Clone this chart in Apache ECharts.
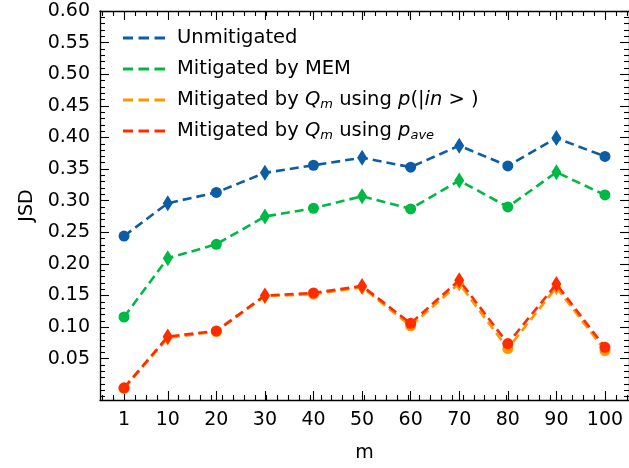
<!DOCTYPE html>
<html><head><meta charset="utf-8">
<script src="https://cdn.jsdelivr.net/npm/echarts@6/dist/echarts.min.js"></script>
<style>html,body{margin:0;padding:0;background:#fff}#c{width:629px;height:468px}</style>
</head><body><div id="c"></div>
<script>
// ---- data ----
const mValues = [1, 10, 20, 30, 40, 50, 60, 70, 80, 90, 100];
const unmitigated    = [0.244, 0.296, 0.313, 0.344, 0.356, 0.368, 0.353, 0.387, 0.355, 0.399, 0.370];
const mitigatedMEM   = [0.116, 0.209, 0.231, 0.275, 0.288, 0.307, 0.287, 0.332, 0.290, 0.345, 0.309];
const mitigatedQmIn  = [0.003, 0.083, 0.093, 0.149, 0.152, 0.163, 0.102, 0.169, 0.066, 0.163, 0.063];
const mitigatedQmAve = [0.004, 0.085, 0.094, 0.150, 0.154, 0.165, 0.106, 0.174, 0.074, 0.168, 0.068];
const seriesNames = ['Unmitigated', 'Mitigated by MEM', 'Mitigated by Q_m using p(|in>)', 'Mitigated by Q_m using p_ave'];
const yTickLabels = [0.05, 0.10, 0.15, 0.20, 0.25, 0.30, 0.35, 0.40, 0.45, 0.50, 0.55, 0.60];
const colors = ['#0C5DA5', '#00B945', '#FF9500', '#FF2C00'];

// ---- tick helpers ----
const xMinor = [];
for (let k = -2; k <= 46; k++) {
  const v = Math.round((1 + 2.25 * k) * 100) / 100;
  if (mValues.indexOf(v) < 0) xMinor.push(v);
}
const yMinor = [];
for (let k = -1; k <= 59; k++) {
  if (k % 5 === 0 && k >= 5) continue;
  yMinor.push(Math.round(k) / 100);
}

const FONT = 'DejaVu Sans';
const XMIN = -3.95, XMAX = 104.95, YMIN = -0.0153, YMAX = 0.60;
const lineBlack = {color: '#000', width: 1.3};

function xAxis(pos, ticks, len, showLine, labels) {
  const a = {
    type: 'value', min: XMIN, max: XMAX, position: pos,
    axisLine: {show: showLine, onZero: false, lineStyle: lineBlack},
    axisTick: {show: true, inside: true, length: len, customValues: ticks, lineStyle: {color: '#000', width: 1.1}},
    axisLabel: {show: !!labels},
    splitLine: {show: false}
  };
  if (labels) {
    a.axisLabel = {show: true, customValues: ticks, margin: 11, fontSize: 19, fontFamily: FONT, color: '#000',
      formatter: v => String(Math.round(v))};
    a.name = 'm'; a.nameLocation = 'middle'; a.nameGap = 44;
    a.nameTextStyle = {fontSize: 19, fontFamily: FONT, color: '#000'};
  }
  return a;
}
function yAxis(pos, ticks, len, showLine, labels) {
  const a = {
    type: 'value', min: YMIN, max: YMAX, position: pos,
    axisLine: {show: showLine, onZero: false, lineStyle: lineBlack},
    axisTick: {show: true, inside: true, length: len, customValues: ticks, lineStyle: {color: '#000', width: 1.1}},
    axisLabel: {show: !!labels},
    splitLine: {show: false}
  };
  if (labels) {
    a.axisLabel = {show: true, customValues: ticks, margin: 10, fontSize: 19, fontFamily: FONT, color: '#000',
      formatter: v => v.toFixed(2)};
    a.name = 'JSD'; a.nameLocation = 'middle'; a.nameGap = 62;
    a.nameTextStyle = {fontSize: 19, fontFamily: FONT, color: '#000'};
  }
  return a;
}

const seriesValues = [unmitigated, mitigatedMEM, mitigatedQmIn, mitigatedQmAve];
const series = seriesValues.map((vals, s) => ({
  name: seriesNames[s],
  type: 'line',
  z: 2 + s,
  xAxisIndex: 0, yAxisIndex: 0,
  data: vals.map((v, i) => ({
    value: [mValues[i], v],
    symbol: i % 2 === 0 ? 'circle' : 'diamond',
    symbolSize: i % 2 === 0 ? 11 : [10, 16]
  })),
  showAllSymbol: true,
  lineStyle: {color: colors[s], width: 2.6, type: [9, 5]},
  itemStyle: {color: colors[s]},
  emphasis: {disabled: true},
  animation: false
}));

const LFS = 19.5;
const legendRich = {
  it: {fontStyle: 'italic', fontSize: LFS, fontFamily: FONT, color: '#000', lineHeight: 22},
  sub: {fontStyle: 'italic', fontSize: 13, fontFamily: FONT, color: '#000', lineHeight: 14, verticalAlign: 'bottom'}
};
function legendFormatter(name) {
  if (name === seriesNames[2]) return 'Mitigated by {it|Q}{sub|m} using {it|p}(|{it|in} > )';
  if (name === seriesNames[3]) return 'Mitigated by {it|Q}{sub|m} using {it|p}{sub|ave}';
  return name;
}

const chart = echarts.init(document.getElementById('c'), null, {renderer: 'canvas'});
chart.setOption({
  animation: false,
  backgroundColor: '#fff',
  grid: {left: 100, top: 11, width: 533, height: 393, containLabel: false},
  xAxis: [
    xAxis('bottom', mValues, 9, true, true),
    xAxis('bottom', xMinor, 5, false, false),
    xAxis('top', mValues, 9, true, false),
    xAxis('top', xMinor, 5, false, false)
  ],
  yAxis: [
    yAxis('left', yTickLabels, 9, true, true),
    yAxis('left', yMinor, 5, false, false),
    yAxis('right', yTickLabels, 9, true, false),
    yAxis('right', yMinor, 5, false, false)
  ],
  legend: {
    orient: 'vertical', left: 118, top: 22, itemWidth: 42, itemHeight: 3, itemGap: 9,
    selectedMode: false,
    icon: 'path://M0,0h10v3h-10z M15.5,0h10.5v3h-10.5z M31.5,0h10.5v3h-10.5z',
    itemStyle: {borderWidth: 0},
    textStyle: {fontSize: LFS, fontFamily: FONT, color: '#000', lineHeight: 22, padding: [0, 0, 0, 7], rich: legendRich},
    formatter: legendFormatter,
    data: seriesNames
  },
  series: series
});
</script>
</body></html>
